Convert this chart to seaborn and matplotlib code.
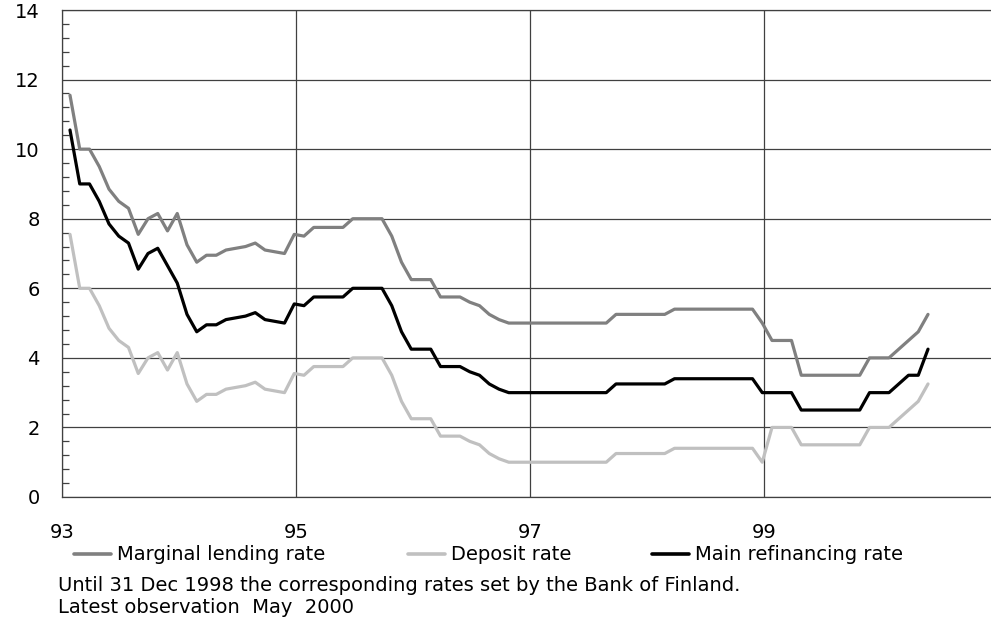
import numpy as np
import pandas as pd
import matplotlib
matplotlib.use("Agg")
import matplotlib.pyplot as plt
from matplotlib.ticker import MultipleLocator, AutoMinorLocator, FixedLocator
import seaborn as sns

# Monthly observations, Jan 1993 - May 2000
start_month = "1993-01"
n_months = 89

marginal_lending = [
    11.55, 10.0, 10.0, 9.5, 8.85, 8.5, 8.3, 7.55, 8.0, 8.15, 7.65, 8.15,
    7.25, 6.75, 6.95, 6.95, 7.1, 7.15, 7.2, 7.3, 7.1, 7.05, 7.0, 7.55,
    7.5, 7.75, 7.75, 7.75, 7.75, 8.0, 8.0, 8.0, 8.0, 7.5, 6.75, 6.25,
    6.25, 6.25, 5.75, 5.75, 5.75, 5.6, 5.5, 5.25, 5.1, 5.0, 5.0, 5.0,
    5.0, 5.0, 5.0, 5.0, 5.0, 5.0, 5.0, 5.0, 5.25, 5.25, 5.25, 5.25,
    5.25, 5.25, 5.4, 5.4, 5.4, 5.4, 5.4, 5.4, 5.4, 5.4, 5.4, 5.0,
    4.5, 4.5, 4.5, 3.5, 3.5, 3.5, 3.5, 3.5, 3.5, 3.5, 4.0, 4.0,
    4.0, 4.25, 4.5, 4.75, 5.25,
]

deposit = [
    7.55, 6.0, 6.0, 5.5, 4.85, 4.5, 4.3, 3.55, 4.0, 4.15, 3.65, 4.15,
    3.25, 2.75, 2.95, 2.95, 3.1, 3.15, 3.2, 3.3, 3.1, 3.05, 3.0, 3.55,
    3.5, 3.75, 3.75, 3.75, 3.75, 4.0, 4.0, 4.0, 4.0, 3.5, 2.75, 2.25,
    2.25, 2.25, 1.75, 1.75, 1.75, 1.6, 1.5, 1.25, 1.1, 1.0, 1.0, 1.0,
    1.0, 1.0, 1.0, 1.0, 1.0, 1.0, 1.0, 1.0, 1.25, 1.25, 1.25, 1.25,
    1.25, 1.25, 1.4, 1.4, 1.4, 1.4, 1.4, 1.4, 1.4, 1.4, 1.4, 1.0,
    2.0, 2.0, 2.0, 1.5, 1.5, 1.5, 1.5, 1.5, 1.5, 1.5, 2.0, 2.0,
    2.0, 2.25, 2.5, 2.75, 3.25,
]

main_refinancing = [
    10.55, 9.0, 9.0, 8.5, 7.85, 7.5, 7.3, 6.55, 7.0, 7.15, 6.65, 6.15,
    5.25, 4.75, 4.95, 4.95, 5.1, 5.15, 5.2, 5.3, 5.1, 5.05, 5.0, 5.55,
    5.5, 5.75, 5.75, 5.75, 5.75, 6.0, 6.0, 6.0, 6.0, 5.5, 4.75, 4.25,
    4.25, 4.25, 3.75, 3.75, 3.75, 3.6, 3.5, 3.25, 3.1, 3.0, 3.0, 3.0,
    3.0, 3.0, 3.0, 3.0, 3.0, 3.0, 3.0, 3.0, 3.25, 3.25, 3.25, 3.25,
    3.25, 3.25, 3.4, 3.4, 3.4, 3.4, 3.4, 3.4, 3.4, 3.4, 3.4, 3.0,
    3.0, 3.0, 3.0, 2.5, 2.5, 2.5, 2.5, 2.5, 2.5, 2.5, 3.0, 3.0,
    3.0, 3.25, 3.5, 3.5, 4.25,
]

series_names = ["Marginal lending rate", "Deposit rate", "Main refinancing rate"]
series_colors = ["#808080", "#c0c0c0", "#000000"]
year_ticks = [1993, 1995, 1997, 1999]
year_labels = ["93", "95", "97", "99"]
note_lines = ["Until 31 Dec 1998 the corresponding rates set by the Bank of Finland.",
              "Latest observation  May  2000"]

# decimal-year positions of the monthly points
dates = pd.date_range(start_month, periods=n_months, freq="MS")
t = dates.year + (dates.month - 1 + 0.82) / 12

df = pd.DataFrame({
    "t": np.tile(t, 3),
    "rate": marginal_lending + deposit + main_refinancing,
    "series": np.repeat(series_names, n_months),
})

sns.set_style("white")
plt.rcParams["font.family"] = ["DejaVu Sans"]
plt.rcParams["text.color"] = "black"
plt.rcParams["xtick.labelcolor"] = "black"
plt.rcParams["ytick.labelcolor"] = "black"

W, H = 991, 625
fig = plt.figure(figsize=(W / 100, H / 100), dpi=100)
ax = fig.add_axes([62 / W, 1 - 497 / H, (991 - 62) / W, (497 - 10) / H])

sns.lineplot(data=df, x="t", y="rate", hue="series", hue_order=series_names,
             palette=series_colors, linewidth=2.3, ax=ax, legend=False)

grid_col = "#404040"
ax.set_xlim(1993, 2000.94)
ax.set_ylim(0, 14)
ax.yaxis.set_major_locator(MultipleLocator(2))
ax.yaxis.set_minor_locator(AutoMinorLocator(5))
ax.xaxis.set_major_locator(FixedLocator(year_ticks))
ax.set_xticklabels(year_labels)
ax.grid(True, which="major", color=grid_col, linewidth=0.9)
ax.set_axisbelow(True)
ax.tick_params(axis="y", which="major", length=0, pad=16, labelsize=14)
ax.tick_params(axis="y", which="minor", direction="in", length=5, width=0.9,
               color=grid_col, left=True)
ax.tick_params(axis="x", length=0, pad=19, labelsize=14)
ax.set_xlabel("")
ax.set_ylabel("")
for side in ["left", "bottom", "top"]:
    ax.spines[side].set_color(grid_col)
    ax.spines[side].set_linewidth(0.9)
ax.spines["right"].set_visible(False)

# legend, one entry per slot
legend_x = [74, 408, 652]
for name, col, lx in zip(series_names, series_colors, legend_x):
    h = plt.Line2D([], [], color=col, linewidth=2.6)
    leg = fig.legend(handles=[h], labels=[name], loc="center left",
                     bbox_to_anchor=(lx / W, 1 - 555 / H), frameon=False,
                     fontsize=14, handlelength=1.9, handletextpad=0.3,
                     borderpad=0, borderaxespad=0)

fig.text(58 / W, 1 - 591 / H, note_lines[0], fontsize=14, va="baseline")
fig.text(58 / W, 1 - 613 / H, note_lines[1], fontsize=14, va="baseline")

fig.savefig("out.png", dpi=100)
